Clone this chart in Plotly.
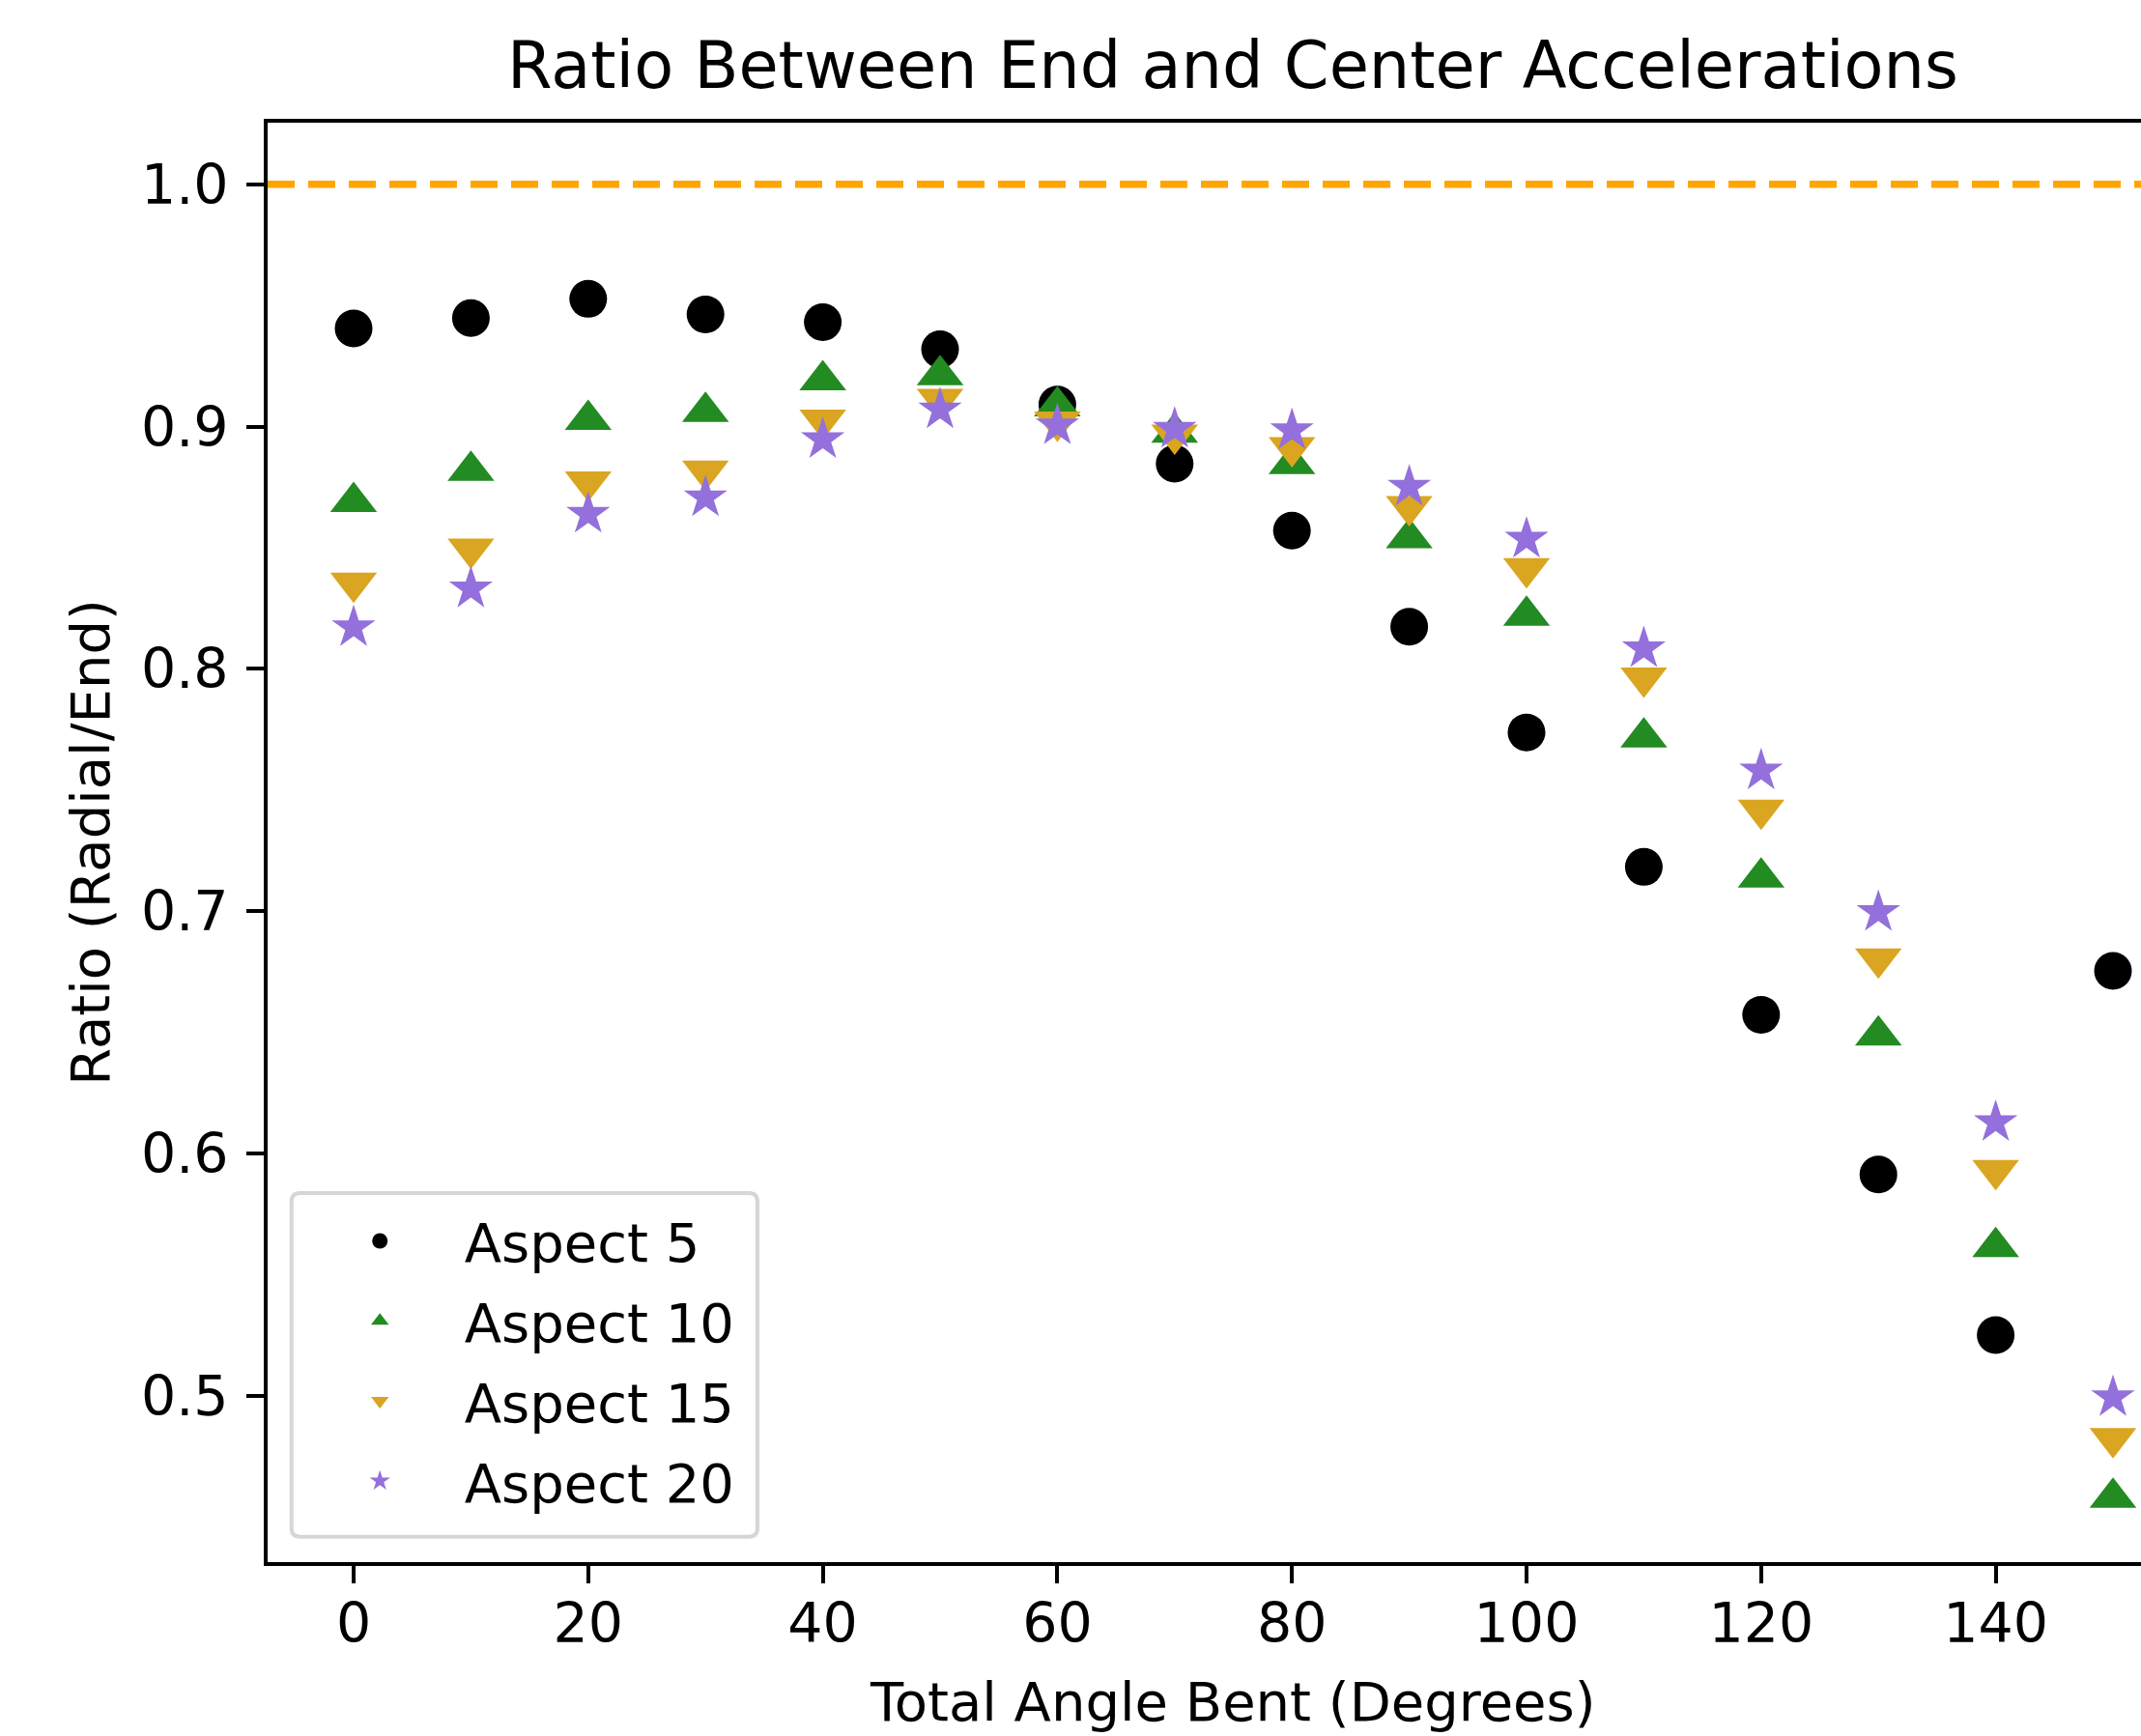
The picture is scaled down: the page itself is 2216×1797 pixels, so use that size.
import plotly.graph_objects as go

# ---- data ----
angles = [0, 10, 20, 30, 40, 50, 60, 70, 80, 90, 100, 110, 120, 130, 140, 150]
aspect5 = [0.9405, 0.9448, 0.9527, 0.9463, 0.9431, 0.9319, 0.9091, 0.8847, 0.8571, 0.8174,
           0.7738, 0.7183, 0.6573, 0.5914, 0.5251, 0.6754]
aspect10 = [0.8689, 0.8818, 0.9028, 0.9061, 0.9192, 0.9213, 0.9084, 0.8975, 0.8846, 0.8540,
            0.8220, 0.7718, 0.7140, 0.6488, 0.5615, 0.4580]
aspect15 = [0.8355, 0.8496, 0.8773, 0.8818, 0.9028, 0.9114, 0.9020, 0.8966, 0.8915, 0.8671,
            0.8415, 0.7964, 0.7419, 0.6805, 0.5932, 0.4826]
aspect20 = [0.8171, 0.8331, 0.8639, 0.8707, 0.8947, 0.9070, 0.9004, 0.8990, 0.8984, 0.8751,
            0.8536, 0.8084, 0.7580, 0.6996, 0.6129, 0.4994]
series_names = ["Aspect 5", "Aspect 10", "Aspect 15", "Aspect 20"]
reference_ratio = 1.0
x_ticks = [0, 20, 40, 60, 80, 100, 120, 140]
y_ticks = [0.5, 0.6, 0.7, 0.8, 0.9, 1.0]

# ---- layout geometry (pixels) ----
FONT = "DejaVu Sans"
W, H = 2216, 1797
ML, MT, MB = 277, 127, 180
plot_top, plot_bottom = MT, H - MB
plot_w, plot_h = W - ML, plot_bottom - plot_top
px_per_deg = 12.14
x0_px = 366
x_min = -(x0_px - ML) / px_per_deg
x_max = (W - x0_px) / px_per_deg
y1_px, px_per_unit = 190.7, 2508.6
y_max = 1 - (plot_top - y1_px) / px_per_unit
y_min = 1 - (plot_bottom - y1_px) / px_per_unit


def px_x(px):
    return (px - ML) / plot_w


def px_y(py):
    return (plot_bottom - py) / plot_h


styles = [
    dict(symbol="circle", color="black", size=39),
    dict(symbol="triangle-up", color="#228B22", size=42),
    dict(symbol="triangle-down", color="#DAA520", size=42),
    dict(symbol="star", color="#9370DB", size=34),
]

fig = go.Figure()
for name, vals, st in zip(series_names, [aspect5, aspect10, aspect15, aspect20], styles):
    fig.add_trace(go.Scatter(
        x=angles, y=vals, mode="markers", name=name, legendgroup=name,
        marker=dict(symbol=st["symbol"], color=st["color"], size=st["size"],
                    line=dict(width=0)),
        cliponaxis=False,
    ))

fig.add_shape(type="line", xref="paper", yref="y", x0=0, x1=1,
              y0=reference_ratio, y1=reference_ratio,
              line=dict(color="#FFA500", width=7.5, dash="28px,14px"), layer="below")

# legend frame (rounded, light grey, as in the original)
bx0, bx1, by0, by1, rad = px_x(301.7), px_x(784), px_y(1590.7), px_y(1235), 9
rx, ry = rad / plot_w, rad / plot_h
frame = (f"M {bx0+rx},{by0} L {bx1-rx},{by0} Q {bx1},{by0} {bx1},{by0+ry} "
         f"L {bx1},{by1-ry} Q {bx1},{by1} {bx1-rx},{by1} "
         f"L {bx0+rx},{by1} Q {bx0},{by1} {bx0},{by1-ry} "
         f"L {bx0},{by0+ry} Q {bx0},{by0} {bx0+rx},{by0} Z")
fig.add_shape(type="path", xref="paper", yref="paper", path=frame,
              fillcolor="rgba(255,255,255,0.8)", line=dict(color="#d6d6d6", width=4),
              layer="above")

# x-axis title, centred on the full (partly cropped) axes width
axes_center_px = 1276
fig.add_annotation(text="Total Angle Bent (Degrees)", xref="paper", yref="paper",
                   x=px_x(axes_center_px), xanchor="center",
                   y=px_y(1761), yanchor="middle",
                   showarrow=False, font=dict(family=FONT, size=56, color="black"))

fig.update_layout(
    width=W, height=H,
    margin=dict(l=ML, r=0, t=MT, b=MB, pad=0),
    paper_bgcolor="white", plot_bgcolor="white",
    font=dict(family=FONT, size=57, color="black"),
    title=dict(text="Ratio Between End and Center Accelerations",
               font=dict(family=FONT, size=67, color="black"),
               x=axes_center_px / W, xanchor="center", xref="container",
               y=1 - 68 / H, yanchor="middle", yref="container"),
    showlegend=True,
    legend=dict(x=px_x(305.7), y=px_y(1241.6),
                xanchor="left", yanchor="top",
                bgcolor="rgba(0,0,0,0)", borderwidth=0,
                font=dict(family=FONT, size=56, color="black"),
                itemsizing="trace", tracegroupgap=7, itemwidth=165),
    xaxis=dict(range=[x_min, x_max], tickmode="array", tickvals=x_ticks,
               ticktext=[str(v) for v in x_ticks],
               showgrid=False, zeroline=False, showline=True, linecolor="black",
               linewidth=4, mirror=True, ticks="outside", ticklen=18, tickwidth=4,
               tickcolor="black", ticklabelstandoff=-7),
    yaxis=dict(range=[y_min, y_max], tickmode="array", tickvals=y_ticks,
               ticktext=[f"{v:.1f}" for v in y_ticks],
               showgrid=False, zeroline=False, showline=True, linecolor="black",
               linewidth=4, mirror=False, ticks="outside", ticklen=18, tickwidth=4,
               tickcolor="black", ticklabelstandoff=7,
               title=dict(text="Ratio (Radial/End)", standoff=15,
                          font=dict(family=FONT, size=56))),
)

fig.write_html("out.html")
